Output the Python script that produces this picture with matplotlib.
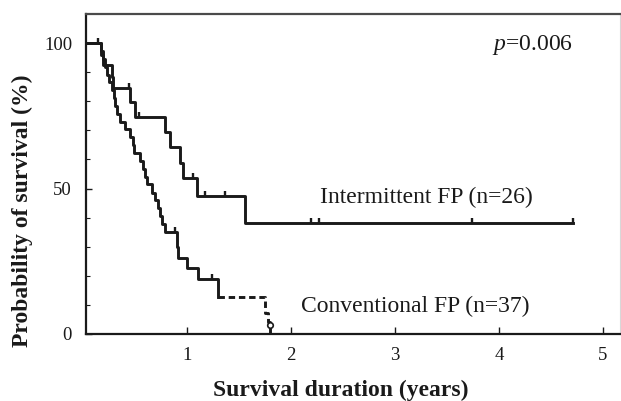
import numpy as np
import matplotlib
matplotlib.use("Agg")
from matplotlib import pyplot as plt

# Kaplan-Meier curves (years, % surviving)
int_time = [0, 0.17, 0.19, 0.28, 0.29, 0.45, 0.50, 0.79, 0.84, 0.93, 0.96, 1.10, 1.56, 4.71]
int_surv = [100, 96.0, 92.3, 88.5, 84.6, 79.8, 74.5, 69.4, 64.3, 58.8, 53.6, 47.4, 38.0, 38.0]
int_cens = [0.14, 0.44, 0.54, 1.06, 1.17, 1.37, 2.19, 2.27, 3.74, 4.71]

conv_time = [0, 0.17, 0.19, 0.21, 0.23, 0.25, 0.28, 0.30, 0.31, 0.33, 0.36, 0.40,
             0.45, 0.48, 0.49, 0.55, 0.58, 0.60, 0.62, 0.66, 0.69, 0.72, 0.74, 0.76,
             0.79, 0.90, 0.91, 1.00, 1.11, 1.30, 1.75, 1.78, 1.80]
conv_surv = [100, 97.3, 94.6, 91.9, 89.2, 86.5, 83.8, 81.1, 78.4, 75.7, 73.0, 70.3,
             67.6, 64.9, 62.2, 59.5, 56.8, 54.1, 51.4, 48.6, 45.9, 43.2, 40.5, 37.8,
             35.1, 30.0, 26.1, 22.7, 18.9, 12.7, 7.2, 4.1, 0]
conv_cens = [0.88, 1.24]
conv_dash_from = 1.30   # curve is drawn dashed after this time
conv_last_cens = (1.80, 3.0)

x_ticks = [1, 2, 3, 4, 5]
y_ticks = [0, 50, 100]

plt.rcParams['font.family'] = ['Liberation Serif', 'DejaVu Serif']
plt.rcParams['mathtext.fontset'] = 'custom'
plt.rcParams['mathtext.it'] = 'Liberation Serif:italic'
plt.rcParams['mathtext.rm'] = 'Liberation Serif'
ink = '#1a1a1a'

def level_at(times, surv, t):
    i = np.searchsorted(times, t, side='right') - 1
    return surv[i]

fig = plt.figure(figsize=(6.21, 4.01), dpi=100)
ax = fig.add_axes([86/621, 67/401, 534/621, 320/401])

lw = 2.1
tick_marker = [(0, 0), (0, 1)]

# intermittent FP
ax.step(int_time, int_surv, where='post', color=ink, lw=lw)
ax.plot(int_cens, [level_at(int_time, int_surv, t) for t in int_cens], ls='none',
        marker=tick_marker, ms=6.5, mew=1.7, color=ink)

# conventional FP: solid part then dashed tail
ct = np.array(conv_time)
cs = np.array(conv_surv)
k = np.searchsorted(ct, conv_dash_from)
ax.step(ct[:k + 1], cs[:k + 1], where='post', color=ink, lw=lw)
ax.step(ct[k:], cs[k:], where='post', color=ink, lw=lw, ls=(0, (2.2, 1.3)))
ax.plot(conv_cens, [level_at(conv_time, conv_surv, t) for t in conv_cens], ls='none',
        marker=tick_marker, ms=6.5, mew=1.7, color=ink)
ax.plot([conv_last_cens[0]], [conv_last_cens[1]], ls='none', marker='o', ms=4,
        mfc='white', mec=ink, mew=1.2)

ax.set_xlim(0.029, 5.163)
ax.set_ylim(0, 110)

ax.set_xticks(x_ticks)
ax.set_yticks(y_ticks)
ax.set_yticks(np.arange(10, 110, 10), minor=True)
ax.tick_params(axis='both', which='both', direction='in', colors=ink, labelsize=13.5)
ax.tick_params(axis='y', which='major', length=4, width=1, pad=10)
ax.tick_params(axis='y', which='minor', length=3, width=0.8)
ax.tick_params(axis='x', which='major', length=5, width=1, pad=9)

for s in ['left', 'bottom']:
    ax.spines[s].set_color(ink)
    ax.spines[s].set_linewidth(1.6)
ax.spines['top'].set_color('#4a4a4a')
ax.spines['top'].set_linewidth(1.6)
ax.spines['right'].set_color('#d8d8d8')
ax.spines['right'].set_linewidth(0.8)

ax.set_xlabel('Survival duration (years)', fontsize=17, fontweight='bold', color=ink)
ax.set_ylabel('Probability of survival (%)', fontsize=17, fontweight='bold', color=ink)
ax.xaxis.set_label_coords(0.4775, -0.175)
ax.yaxis.set_label_coords(-0.12, 0.384)
ax.xaxis.label.set_va('center')
ax.yaxis.label.set_va('center')

ax.text(4.32, 99.3, r'$p$=0.006', fontsize=17, ha='center', va='center', color=ink)
ax.text(3.30, 47.1, 'Intermittent FP (n=26)', fontsize=17, ha='center', va='center', color=ink)
ax.text(3.19, 9.3, 'Conventional FP (n=37)', fontsize=17, ha='center', va='center', color=ink)

fig.savefig('out.png', dpi=100)
